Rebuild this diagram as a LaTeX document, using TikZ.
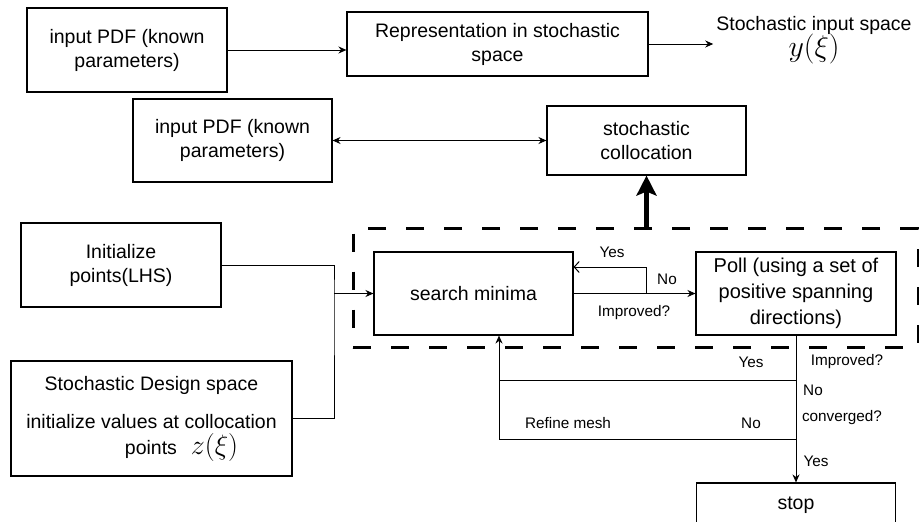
\documentclass[tikz,border=0pt]{standalone}
\usepackage{fix-cm}
\usepackage{fontspec}
\setmainfont{Liberation Sans}
\usepackage{amsmath}
\usepackage{tikz}
\usetikzlibrary{positioning,arrows.meta}
\newcommand{\bigmath}[1]{{\fontsize{30}{30}\selectfont$#1$}}
\tikzstyle{block} = [draw, line width=1.1pt, align=center, inner sep=2pt, font=\fontsize{19.5}{24}\selectfont]
\tikzstyle{lbl} = [inner sep=0pt, font=\fontsize{15.3}{18}\selectfont]
\tikzstyle{flow} = [-{Stealth[length=8pt,width=7pt]}, line width=1pt]
\tikzstyle{bigflow} = [-{Stealth[length=20pt,width=20pt,inset=4pt]}, line width=5pt]

\begin{document}
\begin{tikzpicture}[x=1pt,y=-1pt]
			\useasboundingbox (0,0) rectangle (919,522);
			\node[block, minimum width=200pt, minimum height=84pt] (pdfa) at (127,50) {input PDF (known\\parameters)};
			\node[block, minimum width=301pt, minimum height=64pt] (repr) at (497.5,44) {Representation in stochastic\\space};
			\node[align=center, font=\fontsize{19.5}{24}\selectfont, inner sep=3pt] (yxi) at (814,40) {Stochastic input space\\[-2pt]\bigmath{y(\xi)}};
			\node[block, minimum width=199pt, minimum height=83pt] (pdfb) at (232.5,140.5) {input PDF (known\\parameters)};
			\node[block, minimum width=199pt, minimum height=69pt] (coll) at (646.5,140.5) {stochastic\\collocation};
			\node[block, minimum width=200pt, minimum height=84pt] (init) at (121,265) {Initialize\\points(LHS)};
			\node[block, minimum width=281pt, minimum height=115pt] (design) at (151.5,418.5) {Stochastic Design space\\[14pt]initialize values at collocation\\[2pt]\hspace*{60pt}points\hspace{14pt}{\fontsize{28}{28}\selectfont$z(\xi)$}};
			% optimisation loop
			\node[draw, dash pattern=on 18pt off 20pt, line width=3pt, minimum width=565pt, minimum height=119pt] (loop) at (635.5,288) {};
			\node[block, minimum width=199pt, minimum height=83pt] (search) at (473.5,293.5) {search minima};
			\node[block, minimum width=200pt, minimum height=83pt, font=\fontsize{20}{26}\selectfont] (poll) at (796,293.5) {Poll (using a set of\\positive spanning\\directions)};
			\node[block, minimum width=199pt, minimum height=44pt] (stop) at (796,505) {stop};
			\coordinate (join) at (334,293.5);
			\coordinate (fb) at (646,293.5);
			\coordinate (imp) at (796,380);
			\coordinate (conv) at (796,439);
			\coordinate (back) at (499,439);
			\draw[flow] (pdfa) -- (pdfa -| repr.west);
			\draw[flow] (repr.east) -- (repr.east -| yxi.west);
			\draw[flow, {Stealth[length=8pt,width=7pt]}-{Stealth[length=8pt,width=7pt]}] (pdfb) -- (coll);
			\draw[bigflow] (loop.north -| coll.south) -- (coll.south);
			\draw[line width=1pt] (init.east) -| (join) |- (design.east);
			\draw[flow] (join) -- (search.west);
			\draw[flow] (search) -- (poll);
			\draw[line width=1pt, -{Straight Barb[length=5pt,width=11pt]}] (fb) |- ([yshift=26.5pt]search.east);
			\node[lbl] at (612,252) {Yes};
			\node[lbl] at (667,279) {No};
			\node[lbl] at (634,313) {Improved?};
			\draw[flow] (poll) -- (stop);
			\draw[line width=1pt] (imp) -- (imp -| back);
			\draw[flow] (conv) -- (back) -- (search.south -| back);
			\node[lbl] at (751,362) {Yes};
			\node[lbl] at (847,362) {Improved?};
			\node[lbl] at (813,390) {No};
			\node[lbl] at (842,418) {converged?};
			\node[lbl] at (568,423) {Refine mesh};
			\node[lbl] at (751,423) {No};
			\node[lbl] at (816,461) {Yes};
		\end{tikzpicture}
\end{document}
